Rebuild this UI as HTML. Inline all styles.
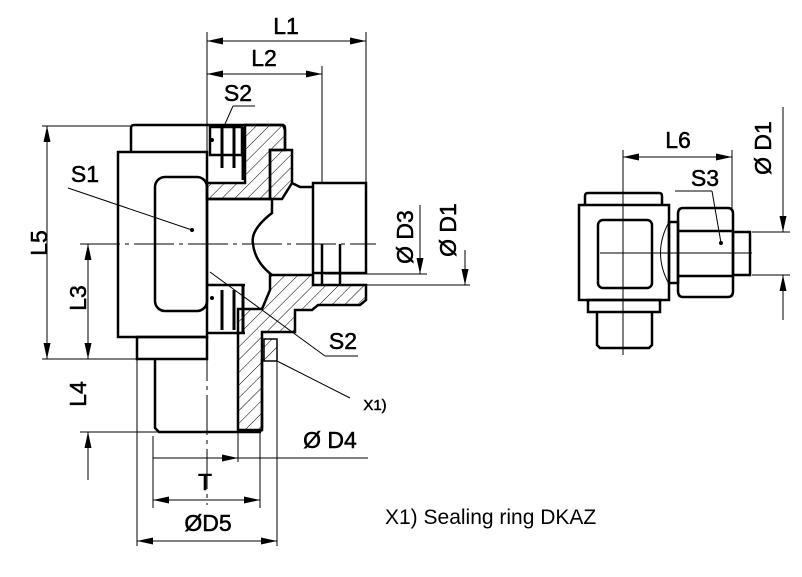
<!DOCTYPE html>
<html><head><meta charset="utf-8"><style>
html,body{margin:0;padding:0;background:#fff;}
svg{display:block;}
text{font-family:"Liberation Sans",Arial,sans-serif;fill:#000;stroke:#000;stroke-width:0.5;}
</style></head><body>
<svg width="802" height="577" viewBox="0 0 802 577" xmlns="http://www.w3.org/2000/svg">
<defs>
<pattern id="h" patternUnits="userSpaceOnUse" width="9" height="9" patternTransform="rotate(45)">
<line x1="0" y1="0" x2="0" y2="9" stroke="#000" stroke-width="1"/>
</pattern>
</defs>
<g fill="none" stroke="#000" stroke-width="1">
<line x1="207" y1="32" x2="207" y2="125"/>
<line x1="366" y1="32" x2="366" y2="183"/>
<line x1="322" y1="66" x2="322" y2="183"/>
<line x1="207" y1="41" x2="366" y2="41"/>
<line x1="207" y1="74" x2="322" y2="74"/>
<line x1="42" y1="126" x2="130" y2="126"/>
<line x1="42" y1="359" x2="137" y2="359"/>
<line x1="47" y1="126" x2="47" y2="359"/>
<line x1="88" y1="244" x2="88" y2="359"/>
<line x1="88" y1="480" x2="88" y2="432"/>
<line x1="80" y1="432" x2="207" y2="432"/>
<line x1="80" y1="244" x2="376" y2="244" stroke-dasharray="40,5,4,5"/>
<line x1="207" y1="125" x2="207" y2="505" stroke-dasharray="40,5,4,5"/>
<line x1="153" y1="436" x2="153" y2="508"/>
<line x1="137" y1="359" x2="137" y2="546"/>
<line x1="277" y1="361" x2="277" y2="546"/>
<line x1="238" y1="432" x2="238" y2="462"/>
<line x1="260" y1="432" x2="260" y2="508"/>
<line x1="153" y1="458" x2="368" y2="458"/>
<line x1="153" y1="500" x2="260" y2="500"/>
<line x1="137" y1="541" x2="277" y2="541"/>
<line x1="325" y1="274" x2="427" y2="274"/>
<line x1="330" y1="285" x2="470" y2="285"/>
<line x1="420" y1="205" x2="420" y2="274"/>
<line x1="465" y1="250" x2="465" y2="285"/>
<line x1="68" y1="188" x2="192" y2="230"/>
<line x1="210" y1="272" x2="325" y2="356"/><line x1="325" y1="356" x2="358" y2="356"/>
<line x1="277" y1="361" x2="350" y2="398"/>
<line x1="225" y1="124" x2="233" y2="106"/><line x1="233" y1="106" x2="255" y2="106"/>
</g>
<g fill="#000">
<polygon points="207,41 223,37.5 223,44.5"/>
<polygon points="366,41 350,37.5 350,44.5"/>
<polygon points="207,74 223,70.5 223,77.5"/>
<polygon points="322,74 306,70.5 306,77.5"/>
<polygon points="47,126 43.5,142 50.5,142"/>
<polygon points="47,359 43.5,343 50.5,343"/>
<polygon points="88,244 84.5,260 91.5,260"/>
<polygon points="88,359 84.5,343 91.5,343"/>
<polygon points="88,432 84.5,448 91.5,448"/>
<polygon points="153,500 169,496.5 169,503.5"/>
<polygon points="260,500 244,496.5 244,503.5"/>
<polygon points="238,458 222,454.5 222,461.5"/>
<polygon points="137,541 153,537.5 153,544.5"/>
<polygon points="277,541 261,537.5 261,544.5"/>
<polygon points="420,274 416.5,258 423.5,258"/>
<polygon points="465,285 461.5,269 468.5,269"/>
<polygon points="623,157 639,153.5 639,160.5"/>
<polygon points="732,157 716,153.5 716,160.5"/>
<polygon points="783,232 779.5,216 786.5,216"/>
<polygon points="783,275 779.5,291 786.5,291"/>
</g>
<g stroke="#000" stroke-width="2.5" fill="none">
<path d="M131,152 L131,128 Q131,125 134,125 L282,125 Q285,125 285,128 L285,150"/>
<rect x="118" y="152" width="89" height="185" />
<rect x="155" y="177" width="52" height="134" rx="10"/>
<rect x="137" y="337" width="70" height="22"/>
<path d="M155,359 L155,428 L159,432 L260,432 L262,428 L262,359"/>
<path d="M245,125 L283,125 L285,130 L285,150 L270,150 L270,199 L207,199 L207,183 L245,183 Z" fill="url(#h)"/>
<path d="M270,275 L313,275 L313,285 L366,285 L366,300 L360,305 L318,305 L312,310 L295,310 L295,332 L262,332 L262,430 L238,430 L238,309 L262,309 L270,290 Z" fill="url(#h)"/>
<path d="M270,150 L292,150 L292,183 L282,199 L270,199 Z" fill="url(#h)"/>
<path d="M292,183 L300,187 L313,187"/>
<path d="M272,199 L272,213 Q250,230 253,244 Q255,262 272,275"/>
<line x1="207" y1="199" x2="272" y2="199"/>
<rect x="313" y="183" width="53" height="90"/>
<line x1="322" y1="244" x2="322" y2="285"/>
<line x1="340" y1="244" x2="340" y2="285"/>
<rect x="210" y="127" width="32" height="28" fill="#fff"/>
<line x1="207" y1="285" x2="245" y2="285"/>
<line x1="207" y1="333" x2="245" y2="333"/>
</g>
<g stroke="#000" stroke-width="3">
<line x1="222" y1="127" x2="222" y2="168"/><line x1="234" y1="127" x2="234" y2="168"/><line x1="243" y1="127" x2="243" y2="180"/>
<line x1="222" y1="290" x2="222" y2="330"/><line x1="234" y1="290" x2="234" y2="330"/><line x1="243" y1="285" x2="243" y2="333"/>
</g>
<rect x="264" y="339" width="13" height="22" fill="url(#h)" stroke="#000" stroke-width="1.5"/>
<circle cx="192" cy="230" r="2" fill="#000"/>
<circle cx="212" cy="140" r="2" fill="#000"/>
<circle cx="212" cy="298" r="2" fill="#000"/>
<text x="286" y="34" font-size="23" text-anchor="middle">L1</text>
<text x="264" y="66" font-size="23" text-anchor="middle">L2</text>
<text x="238" y="101" font-size="23" text-anchor="middle">S2</text>
<text x="85" y="182" font-size="23" text-anchor="middle">S1</text>
<text x="343" y="349" font-size="23" text-anchor="middle">S2</text>
<text x="375" y="410" font-size="15" text-anchor="middle">X1)</text>
<text x="330" y="448" font-size="23" text-anchor="middle">Ø D4</text>
<text x="205" y="490" font-size="23" text-anchor="middle">T</text>
<text x="208" y="531" font-size="23" text-anchor="middle">ØD5</text>
<text transform="translate(47,243) rotate(-90)" font-size="23" text-anchor="middle">L5</text>
<text transform="translate(86,298) rotate(-90)" font-size="23" text-anchor="middle">L3</text>
<text transform="translate(86,394) rotate(-90)" font-size="23" text-anchor="middle">L4</text>
<text transform="translate(413,237) rotate(-90)" font-size="23" text-anchor="middle">Ø D3</text>
<text transform="translate(456,230) rotate(-90)" font-size="23" text-anchor="middle">Ø D1</text>
<text x="385" y="524" font-size="21" style="stroke-width:0">X1) Sealing ring DKAZ</text>
<g fill="none" stroke="#000" stroke-width="1">
<line x1="623" y1="150" x2="623" y2="355"/>
<line x1="600" y1="253" x2="752" y2="253"/>
<line x1="732" y1="150" x2="732" y2="210"/>
<line x1="623" y1="157" x2="732" y2="157"/>
<line x1="752" y1="232" x2="790" y2="232"/>
<line x1="752" y1="275" x2="790" y2="275"/>
<line x1="783" y1="107" x2="783" y2="232"/>
<line x1="783" y1="320" x2="783" y2="275"/>
<line x1="675" y1="191" x2="712" y2="191"/><line x1="712" y1="191" x2="721" y2="243"/>
<path d="M669,222 Q652,253 669,284"/>
</g>
<g fill="none" stroke="#000" stroke-width="2.5">
<path d="M585,205 L585,196 Q585,193 588,193 L659,193 Q662,193 662,196 L662,205"/>
<rect x="579" y="205" width="90" height="95"/>
<rect x="598" y="220" width="54" height="68" rx="5"/>
<rect x="588" y="300" width="72" height="12"/>
<path d="M597,312 L597,345 L600,348 L649,348 L652,345 L652,312"/>
<rect x="669" y="222" width="9" height="61"/>
<path d="M683,208 L728,208 Q733,208 733,214 L733,291 Q733,297 728,297 L683,297 Q678,297 678,291 L678,214 Q678,208 683,208 Z"/>
<line x1="678" y1="231" x2="733" y2="231"/>
<line x1="678" y1="276" x2="733" y2="276"/>
<rect x="733" y="232" width="17" height="43"/>
</g>
<circle cx="721" cy="243" r="2" fill="#000"/>
<text x="678" y="148" font-size="23" text-anchor="middle">L6</text>
<text x="705" y="186" font-size="23" text-anchor="middle">S3</text>
<text transform="translate(771,148) rotate(-90)" font-size="23" text-anchor="middle">Ø D1</text>
</svg>
</body></html>
